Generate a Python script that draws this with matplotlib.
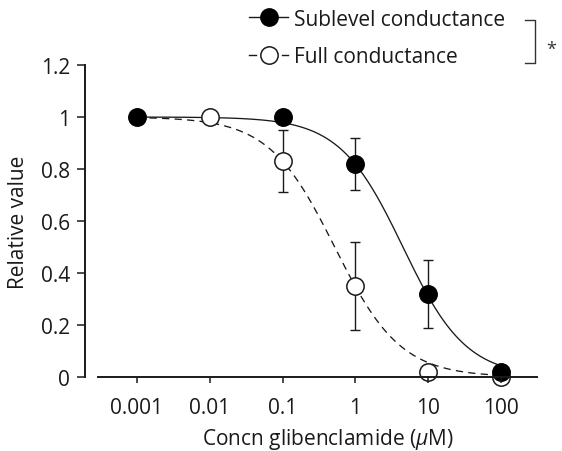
import numpy as np
import matplotlib
matplotlib.use("Agg")
import matplotlib.pyplot as plt
from matplotlib.lines import Line2D

# ---------------- data ----------------
conc_ticks = [0.001, 0.01, 0.1, 1, 10, 100]
conc_tick_labels = ["0.001", "0.01", "0.1", "1", "10", "100"]

sub_x = [0.001, 0.1, 1, 10, 100]
sub_y = [1.0, 1.0, 0.82, 0.32, 0.02]
sub_err = [0.0, 0.0, 0.10, 0.13, 0.0]

full_x = [0.01, 0.1, 1, 10, 100]
full_y = [1.0, 0.83, 0.35, 0.02, 0.0]
full_err = [0.0, 0.12, 0.17, 0.0, 0.0]

# Hill fit parameters (IC50 in uM, Hill coefficient)
sub_ic50, sub_nh = 4.5, 1.0
full_ic50, full_nh = 0.52, 0.96

yticks = [0, 0.2, 0.4, 0.6, 0.8, 1.0, 1.2]
ytick_labels = ["0", "0.2", "0.4", "0.6", "0.8", "1", "1.2"]

legend_labels = ["Sublevel conductance", "Full conductance"]

# ---------------- style ----------------
plt.rcParams['font.family'] = ['Open Sans', 'DejaVu Sans']
plt.rcParams['mathtext.fontset'] = 'custom'
plt.rcParams['mathtext.rm'] = 'Open Sans'
plt.rcParams['mathtext.it'] = 'Open Sans:italic'
INK = '#1a1a1a'
FS = 15

W, H = 562, 452
fig = plt.figure(figsize=(W / 100, H / 100), dpi=100)


def fx(x):
    return x / W


def fy(y):
    return 1 - y / H


ax_l, ax_r, ax_t, ax_b = 85, 537, 66, 378
ax = fig.add_axes([fx(ax_l), fy(ax_b), (ax_r - ax_l) / W, (ax_b - ax_t) / H])
ax.set_xscale('log')
ax.set_xlim(10 ** -3.714, 10 ** 2.495)
ax.set_ylim(0, 1.2)

for s in ['top', 'right']:
    ax.spines[s].set_visible(False)
ax.spines['left'].set_linewidth(1.4)
ax.spines['bottom'].set_linewidth(1.4)
ax.spines['left'].set_color(INK)
ax.spines['bottom'].set_color(INK)
ax.spines['bottom'].set_bounds(10 ** -3.54, 10 ** 2.495)
ax.spines['bottom'].set_zorder(6)
ax.xaxis.set_zorder(6)

ax.set_xticks(conc_ticks)
ax.set_xticklabels(conc_tick_labels)
ax.xaxis.set_minor_locator(matplotlib.ticker.NullLocator())
ax.set_yticks(yticks)
ax.set_yticklabels(ytick_labels)
ax.tick_params(axis='x', direction='out', length=4.5, width=1.1, pad=10,
               labelsize=FS, colors=INK)
ax.tick_params(axis='y', direction='out', length=5.8, width=1.1, pad=5,
               labelsize=FS, colors=INK)

# fitted curves
xc = np.logspace(-3, 2, 400)
ax.plot(xc, 1 / (1 + (xc / full_ic50) ** full_nh), color=INK, lw=0.95,
        dashes=(5.5, 4), zorder=1)
ax.plot(xc, 1 / (1 + (xc / sub_ic50) ** sub_nh), color=INK, lw=0.95, zorder=1)

# full conductance (open)
ax.errorbar(full_x, full_y, yerr=full_err, fmt='none', ecolor=INK,
            elinewidth=1.0, capsize=3.5, capthick=1.0, zorder=2)
ax.plot(full_x, full_y, 'o', ms=12.5, mfc='white', mec=INK, mew=1.1,
        zorder=3, clip_on=False)
# sublevel conductance (filled)
ax.errorbar(sub_x, sub_y, yerr=sub_err, fmt='none', ecolor=INK,
            elinewidth=1.0, capsize=3.5, capthick=1.0, zorder=4)
ax.plot(sub_x, sub_y, 'o', ms=12.5, mfc='black', mec='black', mew=1.1,
        zorder=5, clip_on=False)

# axis labels
fig.text(fx(19), fy(222), "Relative value", rotation=90, ha='center',
         va='center', fontsize=FS, color=INK)
fig.text(fx(328), fy(445), "Concn glibenclamide ($\\mu$M)", ha='center',
         va='baseline', fontsize=FS, color=INK)

# legend (manual)
row_y = [18, 56]
base_y = [26, 63]
mx, lx0, lx1 = 269, 249, 288
fig.add_artist(Line2D([fx(lx0), fx(lx1)], [fy(row_y[0])] * 2, color=INK,
                      lw=1.0, transform=fig.transFigure))
fig.add_artist(Line2D([fx(mx)], [fy(row_y[0])], marker='o', ms=12.5,
                      mfc='black', mec='black', transform=fig.transFigure))
fig.add_artist(Line2D([fx(lx0), fx(256)], [fy(row_y[1])] * 2, color=INK,
                      lw=1.0, transform=fig.transFigure))
fig.add_artist(Line2D([fx(282), fx(lx1)], [fy(row_y[1])] * 2, color=INK,
                      lw=1.0, transform=fig.transFigure))
fig.add_artist(Line2D([fx(mx)], [fy(row_y[1])], marker='o', ms=12.5,
                      mfc='white', mec=INK, mew=1.1, transform=fig.transFigure))
for lab, by in zip(legend_labels, base_y):
    fig.text(fx(294), fy(by), lab, ha='left', va='baseline', fontsize=FS,
             color=INK)

# significance bracket
fig.add_artist(Line2D([fx(525), fx(535), fx(535), fx(525)],
                      [fy(21), fy(21), fy(64), fy(64)], color='#333333',
                      lw=1.0, transform=fig.transFigure))
fig.text(fx(551), fy(55), "*", ha='center', va='baseline', fontsize=13,
         color='#333333')

fig.savefig("out.png", dpi=100)
